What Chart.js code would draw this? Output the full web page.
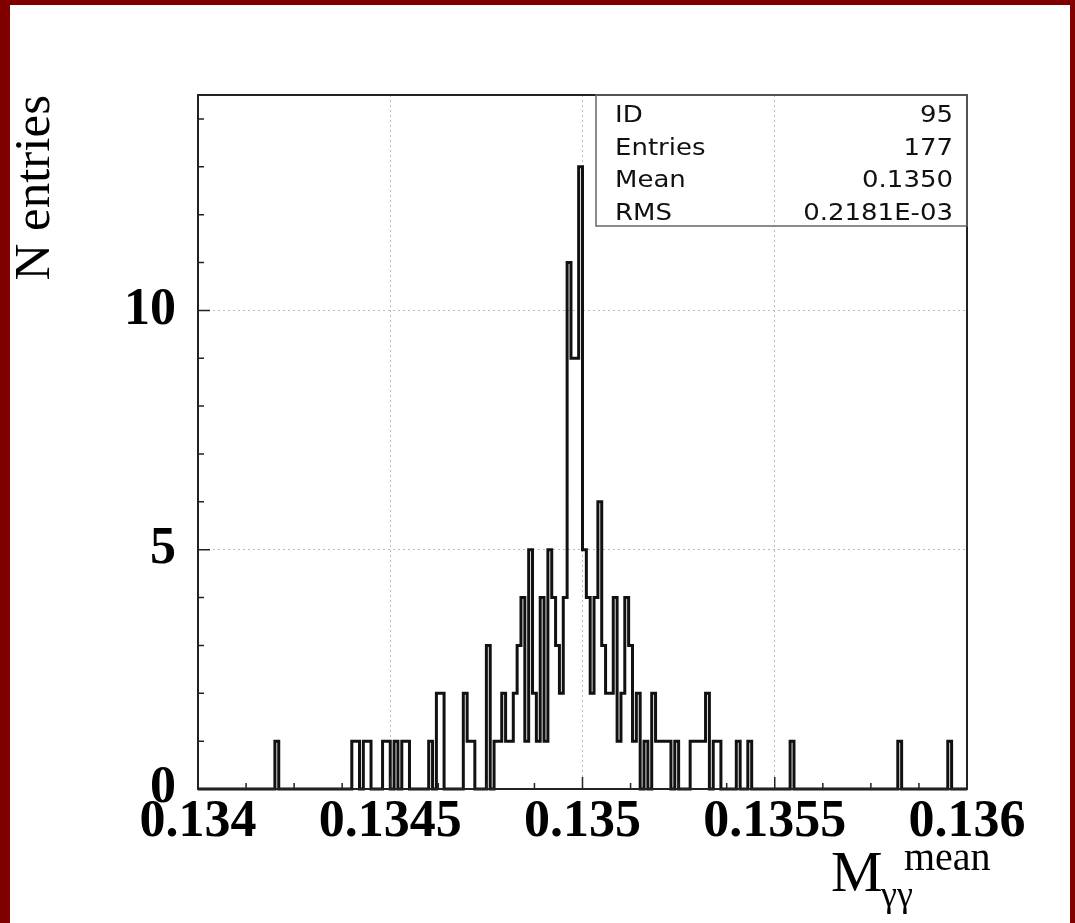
<!DOCTYPE html>
<html>
<head>
<meta charset="utf-8">
<title>M_gg mean</title>
<script src="https://cdn.jsdelivr.net/npm/chart.js@4.4.1/dist/chart.umd.min.js"></script>
<style>
  html, body { margin: 0; padding: 0; background: #fff; }
  #wrap { position: relative; width: 1075px; height: 923px; }
  #plot { position: absolute; left: 0; top: 0; }
  #edge { position: absolute; left: 0; top: 0; width: 1075px; height: 923px; box-sizing: border-box;
          border-style: solid; border-color: #800000; border-width: 5px 5px 0 10px; pointer-events: none; }
</style>
</head>
<body>
<div id="wrap">
  <canvas id="plot" width="1075" height="923"></canvas>
  <div id="edge"></div>
</div>
<script>
// ------------------------------------------------------------
// histogram: 200 bins between 0.134 and 0.136
// ------------------------------------------------------------
const binLow = 0.134;
const binHigh = 0.136;
const nBins = 200;

// entries per bin, 20 bins per row
const counts = [
    0, 0, 0, 0, 0, 0, 0, 0, 0, 0, 0, 0, 0, 0, 0, 0, 0, 0, 0, 0,
    1, 0, 0, 0, 0, 0, 0, 0, 0, 0, 0, 0, 0, 0, 0, 0, 0, 0, 0, 0,
    1, 1, 0, 1, 1, 0, 0, 0, 1, 1, 0, 1, 0, 1, 1, 0, 0, 0, 0, 0,
    1, 0, 2, 2, 0, 0, 0, 0, 0, 2, 1, 1, 0, 0, 0, 3, 0, 1, 1, 2,
    1, 1, 2, 3, 4, 1, 5, 2, 1, 4, 1, 5, 4, 3, 2, 4, 11, 9, 9, 13,
    5, 4, 2, 4, 6, 3, 2, 2, 4, 1, 2, 4, 3, 1, 2, 0, 1, 0, 2, 1,
    1, 1, 1, 0, 1, 0, 0, 0, 1, 1, 1, 1, 2, 0, 1, 1, 0, 0, 0, 0,
    1, 0, 0, 1, 0, 0, 0, 0, 0, 0, 0, 0, 0, 0, 1, 0, 0, 0, 0, 0,
    0, 0, 0, 0, 0, 0, 0, 0, 0, 0, 0, 0, 0, 0, 0, 0, 0, 0, 0, 0,
    0, 0, 1, 0, 0, 0, 0, 0, 0, 0, 0, 0, 0, 0, 0, 1, 0, 0, 0, 0
];

const xTickValues = [0.134, 0.1345, 0.135, 0.1355, 0.136];
const xTickLabels = ['0.134', '0.1345', '0.135', '0.1355', '0.136'];
const yTickValues = [0, 5, 10];
const yMax = 14.5;

// statistics box
const statNames = ['ID', 'Entries', 'Mean', 'RMS'];
const statValues = ['95', '177', '0.1350', '0.2181E-03'];

// step outline points: left edge of every bin, plus the closing edge
const binWidth = (binHigh - binLow) / nBins;
const outline = counts.map(function (c, i) {
    return { x: binLow + i * binWidth, y: c };
});
outline.push({ x: binHigh, y: counts[nBins - 1] });

const SERIF = '"Liberation Serif", "Times New Roman", serif';

// frame, inward ticks, stats box and the x-axis title
const decorations = {
    id: 'decorations',
    afterDraw: function (chart) {
        const ctx = chart.ctx;
        const a = chart.chartArea;
        const xs = chart.scales.x;
        const ys = chart.scales.y;

        ctx.save();

        // small inward ticks
        ctx.strokeStyle = '#222';
        ctx.lineWidth = 1.5;
        ctx.beginPath();
        for (let v = 1; v <= 14; v++) {
            const py = ys.getPixelForValue(v);
            const len = (v % 5 === 0) ? 12 : 6;
            ctx.moveTo(a.left, py);
            ctx.lineTo(a.left + len, py);
        }
        for (let k = 0; k <= 16; k++) {
            const px = xs.getPixelForValue(binLow + k * 0.000125);
            const len = (k % 4 === 0) ? 12 : 6;
            ctx.moveTo(px, a.bottom);
            ctx.lineTo(px, a.bottom - len);
        }
        ctx.stroke();

        // plot frame
        ctx.strokeStyle = '#222';
        ctx.lineWidth = 2;
        ctx.strokeRect(a.left, a.top, a.right - a.left, a.bottom - a.top);

        // stats box
        const boxL = 596, boxT = a.top, boxR = a.right, boxB = 226;
        ctx.strokeStyle = '#666';
        ctx.lineWidth = 1.5;
        ctx.strokeRect(boxL, boxT, boxR - boxL, boxB - boxT);

        ctx.fillStyle = '#111';
        ctx.font = '23px "DejaVu Sans", sans-serif';
        ctx.textBaseline = 'alphabetic';
        for (let i = 0; i < statNames.length; i++) {
            const by = 122 + i * 32.7;
            ctx.save();
            ctx.translate(615, by);
            ctx.scale(1.13, 1);
            ctx.textAlign = 'left';
            ctx.fillText(statNames[i], 0, 0);
            ctx.restore();

            ctx.save();
            ctx.translate(953, by);
            ctx.scale(1.13, 1);
            ctx.textAlign = 'right';
            ctx.fillText(statValues[i], 0, 0);
            ctx.restore();
        }

        // x-axis title M_gg^mean
        ctx.fillStyle = '#000';
        ctx.textAlign = 'left';
        ctx.font = '58px ' + SERIF;
        ctx.fillText('M', 831, 891);
        ctx.font = '36px ' + SERIF;
        ctx.fillText('\u03b3\u03b3', 881, 906);
        ctx.font = '40px ' + SERIF;
        ctx.fillText('mean', 904, 870);

        ctx.restore();
    }
};

new Chart(document.getElementById('plot'), {
    type: 'line',
    data: {
        datasets: [{
            data: outline,
            stepped: 'before',
            borderColor: '#111',
            borderWidth: 3,
            borderJoinStyle: 'miter',
            pointRadius: 0,
            fill: false,
            clip: 4
        }]
    },
    options: {
        responsive: false,
        animation: false,
        devicePixelRatio: 1,
        layout: { padding: { top: 95, right: 108, left: 0, bottom: 0 } },
        plugins: {
            legend: { display: false },
            tooltip: { enabled: false }
        },
        scales: {
            x: {
                type: 'linear',
                min: binLow,
                max: binHigh,
                afterBuildTicks: function (axis) {
                    axis.ticks = xTickValues.map(function (v) { return { value: v }; });
                },
                afterFit: function (axis) { axis.height = 134; },
                grid: { color: '#bbbbbb', lineWidth: 1, drawTicks: false },
                border: { display: false, dash: [2, 3] },
                ticks: {
                    autoSkip: false,
                    maxRotation: 0,
                    padding: 8,
                    color: '#000',
                    font: { family: SERIF, size: 52, weight: 'bold', lineHeight: 1 },
                    callback: function (v, i) { return xTickLabels[i]; }
                }
            },
            y: {
                type: 'linear',
                min: 0,
                max: yMax,
                afterBuildTicks: function (axis) {
                    axis.ticks = yTickValues.map(function (v) { return { value: v }; });
                },
                afterFit: function (axis) { axis.width = 198; },
                grid: { color: '#bbbbbb', lineWidth: 1, drawTicks: false },
                border: { display: false, dash: [2, 3] },
                ticks: {
                    padding: 22,
                    color: '#000',
                    font: { family: SERIF, size: 52, weight: 'bold', lineHeight: 1 }
                },
                title: {
                    display: true,
                    text: 'N entries',
                    align: 'end',
                    color: '#000',
                    padding: { top: 5, bottom: 0 },
                    font: { family: SERIF, size: 51, weight: 'normal' }
                }
            }
        }
    },
    plugins: [decorations]
});
</script>
</body>
</html>
